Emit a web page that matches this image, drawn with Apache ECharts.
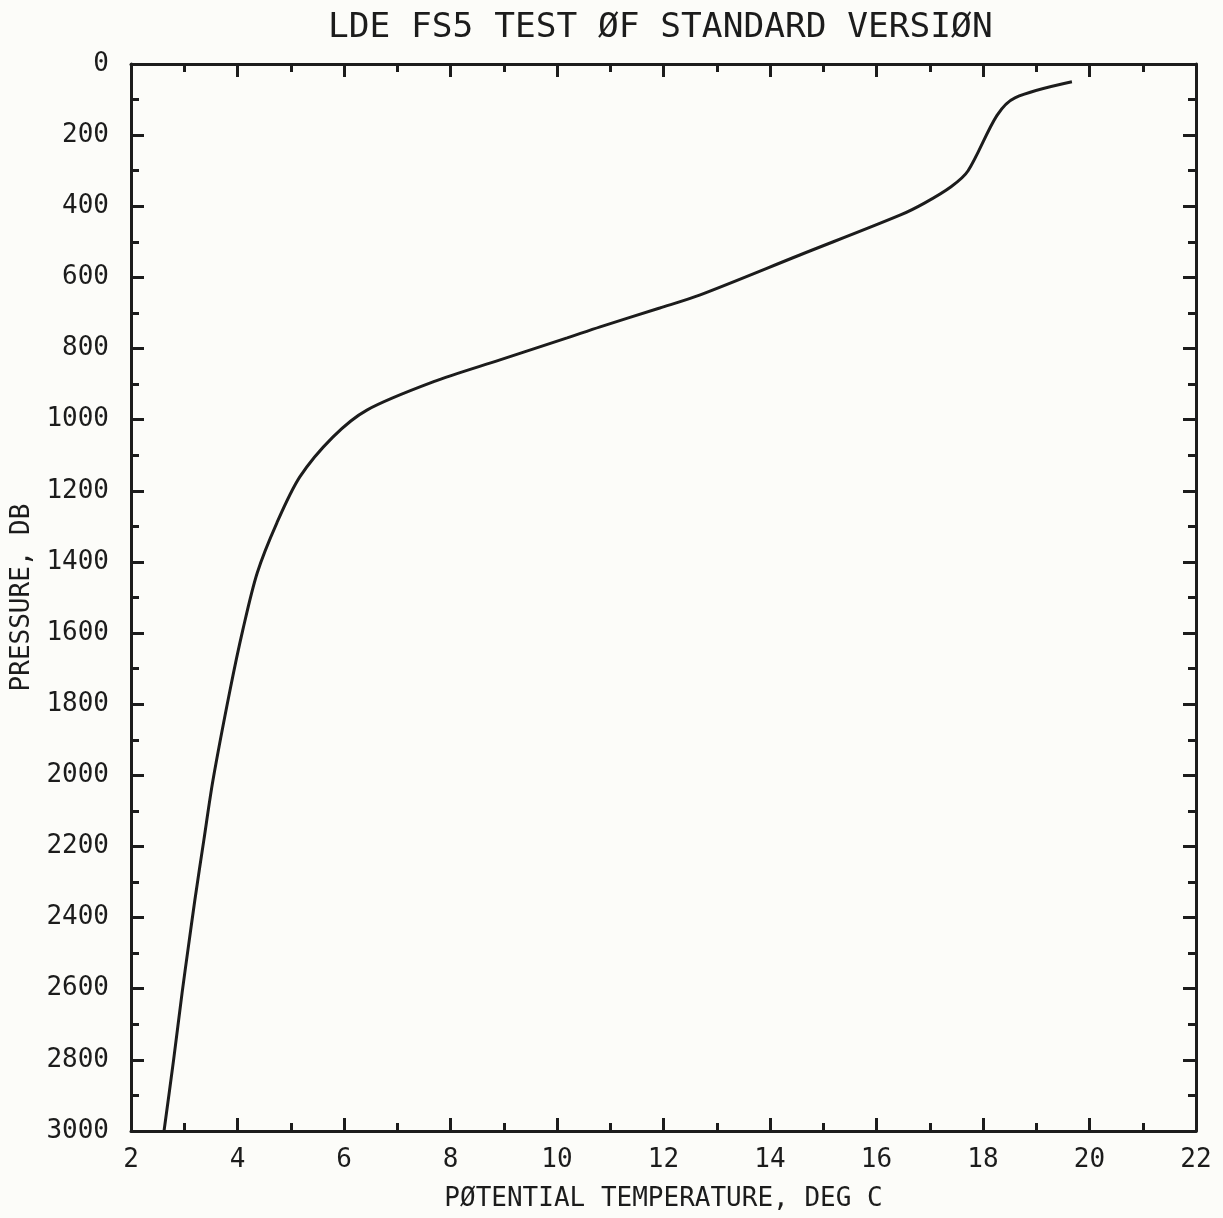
<!DOCTYPE html>
<html>
<head>
<meta charset="utf-8">
<script src="https://cdn.jsdelivr.net/npm/echarts@6/dist/echarts.min.js"></script>
<style>
  html, body { margin: 0; padding: 0; background: #fcfcf9; }
  #chart { width: 1223px; height: 1218px; }
</style>
</head>
<body>
<div id="chart"></div>
<script>
// potential temperature (deg C) against pressure (db)
var temperature = [19.67, 18.6, 18.26, 17.72, 17.4, 16.9, 16.44, 14.56, 12.69, 11.93, 10.81, 10.19, 8.93, 7.67, 6.43, 5.79, 5.17, 4.74, 4.37, 4.10, 3.86, 3.54, 3.37, 3.20, 3.07, 2.96, 2.80, 2.62]
var pressure = [50, 95, 145, 300, 345, 391, 425, 537, 649, 686, 739, 770, 832, 894, 973, 1049, 1161, 1290, 1431, 1591, 1760, 2013, 2180, 2350, 2490, 2611, 2800, 3000]

var titleText = 'LDE FS5 TEST ØF STANDARD VERSIØN'
var xName = 'PØTENTIAL TEMPERATURE, DEG C'
var yName = 'PRESSURE, DB'

var ink = '#1c1c1c'
var font = 'DejaVu Sans Mono'

var chart = echarts.init(document.getElementById('chart'))

function xAxisCfg(pos, labels) {
  return {
    type: 'value',
    position: pos,
    min: 2,
    max: 22,
    interval: 2,
    name: labels ? xName : '',
    nameLocation: 'middle',
    nameGap: 55,
    nameTextStyle: { color: ink, fontFamily: font, fontSize: 26 },
    axisLine: { show: true, onZero: false, lineStyle: { color: ink, width: 3 } },
    axisTick: { show: true, inside: true, length: 13, lineStyle: { color: ink, width: 3 } },
    minorTick: { show: true, splitNumber: 2, length: 8, lineStyle: { color: ink, width: 3 } },
    axisLabel: { show: labels, margin: 16, color: ink, fontFamily: font, fontSize: 26 },
    splitLine: { show: false }
  }
}

function yAxisCfg(pos, labels) {
  return {
    type: 'value',
    position: pos,
    inverse: true,
    min: 0,
    max: 3000,
    interval: 200,
    name: labels ? yName : '',
    nameLocation: 'middle',
    nameGap: 86,
    nameTextStyle: { color: ink, fontFamily: font, fontSize: 26 },
    axisLine: { show: true, onZero: false, lineStyle: { color: ink, width: 3 } },
    axisTick: { show: true, inside: true, length: 13, lineStyle: { color: ink, width: 3 } },
    minorTick: { show: true, splitNumber: 2, length: 8, lineStyle: { color: ink, width: 3 } },
    axisLabel: {
      show: labels,
      margin: 22,
      color: ink,
      fontFamily: font,
      fontSize: 26,
      formatter: function (v) { return String(v) }
    },
    splitLine: { show: false }
  }
}

chart.setOption({
  backgroundColor: '#fcfcf9',
  animation: false,
  title: {
    text: titleText,
    left: 323,
    top: 6,
    textStyle: { color: ink, fontFamily: font, fontSize: 34.5, fontWeight: 'normal' }
  },
  grid: {
    left: 131,
    right: 27,
    top: 64,
    bottom: 87,
    outerBoundsMode: 'none'
  },
  xAxis: [xAxisCfg('bottom', true), xAxisCfg('top', false)],
  yAxis: [yAxisCfg('left', true), yAxisCfg('right', false)],
  series: [
    {
      type: 'line',
      xAxisIndex: 0,
      yAxisIndex: 0,
      data: temperature.map(function (t, i) { return [t, pressure[i]] }),
      showSymbol: false,
      smooth: 0.3,
      lineStyle: { color: ink, width: 3 }
    }
  ]
})
</script>
</body>
</html>
